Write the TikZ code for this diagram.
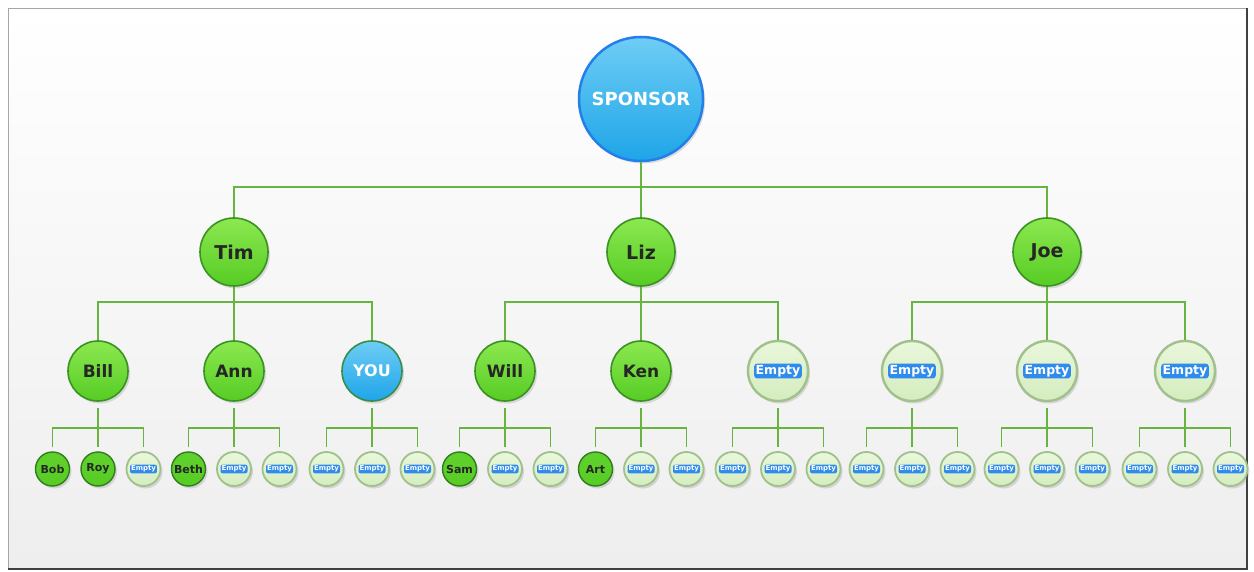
\documentclass[tikz,border=0pt]{standalone}
\usepackage{fontspec}
\setmainfont{DejaVu Sans}
\usetikzlibrary{shadows}
\definecolor{linegreen}{RGB}{104,180,64}
\definecolor{gtop}{RGB}{140,232,80}
\definecolor{gbot}{RGB}{86,204,36}
\definecolor{gborder}{RGB}{58,146,34}
\definecolor{stop}{RGB}{110,205,245}
\definecolor{sbot}{RGB}{30,165,232}
\definecolor{sborder}{RGB}{36,128,232}
\definecolor{etop}{RGB}{234,247,220}
\definecolor{ebot}{RGB}{212,236,190}
\definecolor{eborder}{RGB}{160,192,140}
\definecolor{tagblue}{RGB}{48,140,236}
\definecolor{bgbot}{RGB}{238,238,238}
\begin{document}
\begin{tikzpicture}[x=1pt,y=-1pt,
  conn/.style={draw=linegreen, line width=2pt},
  shad/.style={drop shadow={shadow xshift=2pt, shadow yshift=-2.5pt, opacity=0.25}},
  sponsornode/.style={circle, minimum size=124pt, inner sep=0pt, draw=sborder, line width=2.5pt,
     top color=stop, bottom color=sbot, text=white, font=\bfseries\fontsize{18}{18}\selectfont, shad},
  gA/.style={circle, minimum size=68pt, inner sep=0pt, draw=gborder, line width=1.6pt,
     top color=gtop, bottom color=gbot, text=black!85, font=\bfseries\fontsize{19}{19}\selectfont, shad},
  gB/.style={circle, minimum size=60pt, inner sep=0pt, draw=gborder, line width=1.6pt,
     top color=gtop, bottom color=gbot, text=black!85, font=\bfseries\fontsize{17}{17}\selectfont, shad},
  youB/.style={circle, minimum size=60pt, inner sep=0pt, draw=gborder!80!sborder, line width=1.6pt,
     top color=stop, bottom color=sbot, text=white, font=\bfseries\fontsize{16}{16}\selectfont, shad},
  eB/.style={circle, minimum size=60pt, inner sep=0pt, draw=eborder, line width=2.4pt,
     top color=etop, bottom color=ebot, shad,
     label={[tagB]center:Empty}},
  gC/.style={circle, minimum size=34pt, inner sep=0pt, draw=gborder!85!black, line width=1.4pt,
     top color=gbot!80!gtop, bottom color=gbot, text=black!85, font=\bfseries\fontsize{11}{11}\selectfont, shad},
  eC/.style={circle, minimum size=34pt, inner sep=0pt, draw=eborder, line width=1.8pt,
     top color=etop, bottom color=ebot, shad,
     label={[tagC]center:Empty}},
  tagB/.style={fill=tagblue, text=white, rounded corners=3pt, inner sep=1.5pt,
     font=\bfseries\fontsize{12.5}{12.5}\selectfont},
  tagC/.style={fill=tagblue, text=white, rounded corners=2pt, inner sep=1pt,
     font=\bfseries\fontsize{7}{7}\selectfont},
]
\useasboundingbox (0,0) rectangle (1254,572);
% frame
\fill[white] (0,0) rectangle (1254,572);
\shade[top color=white, bottom color=bgbot] (8,8) rectangle (1247,569);
\draw[black!35, line width=0.8pt] (8,569) -- (8,8) -- (1247,8);
\draw[black!75, line width=2.5pt] (1247,8) -- (1247,569) -- (8,569);

\coordinate (b0) at (641,187);
% sponsor
\node[sponsornode] (sp) at (641,99) {SPONSOR};
% level 1
\node[gA] (tim) at (234,252) {Tim};
\node[gA] (liz) at (641,252) {Liz};
\node[gA] (joe) at (1047,252) {Joe};

% level 2
\node[gB] (bill) at (98,371) {Bill};
\node[gB] (ann) at (234,371) {Ann};
\node[youB] (you) at (372,371) {YOU};
\node[gB] (will) at (505,371) {Will};
\node[gB] (ken) at (641,371) {Ken};
\node[eB] (e6) at (778,371) {};
\node[eB] (e7) at (912,371) {};
\node[eB] (e8) at (1047,371) {};
\node[eB] (e9) at (1185,371) {};

% connectors level 0 -> 1
\draw[conn] (sp.south) -- (b0);
\draw[conn] (tim.north) |- (b0) -| (joe.north);
\draw[conn] (b0) -- (liz.north);

% level 1 -> 2
\foreach \p/\a/\b/\c in {tim/bill/ann/you, liz/will/ken/e6, joe/e7/e8/e9}{
  \coordinate (\p-bar) at ([yshift=-50pt]\p.center);
  \draw[conn] (\p.south) -- (\p-bar);
  \draw[conn] (\a.north) |- (\p-bar) -| (\c.north);
  \draw[conn] (\p-bar) -- (\b.north);
}

% level 3
\foreach \p/\ta/\na/\tb/\nb/\tc/\nc in {
  bill/gC/Bob/gC/Roy/eC/,
  ann/gC/Beth/eC//eC/,
  you/eC//eC//eC/,
  will/gC/Sam/eC//eC/,
  ken/gC/Art/eC//eC/,
  e6/eC//eC//eC/,
  e7/eC//eC//eC/,
  e8/eC//eC//eC/,
  e9/eC//eC//eC/}{
  \node[\ta] (\p-1) at ([xshift=-45.5pt, yshift=-98pt]\p.center) {\na};
  \node[\tb] (\p-2) at ([yshift=-98pt]\p.center) {\nb};
  \node[\tc] (\p-3) at ([xshift=45.5pt, yshift=-98pt]\p.center) {\nc};
  \coordinate (\p-bar) at ([yshift=-57pt]\p.center);
  \draw[conn, line width=1.6pt] ([yshift=-6pt]\p.south) -- (\p-bar);
  \draw[conn, line width=1.6pt] ([yshift=4pt]\p-1.north) |- (\p-bar) -| ([yshift=4pt]\p-3.north);
  \draw[conn, line width=1.6pt] (\p-bar) -- ([yshift=4pt]\p-2.north);
}
\end{tikzpicture}
\end{document}
